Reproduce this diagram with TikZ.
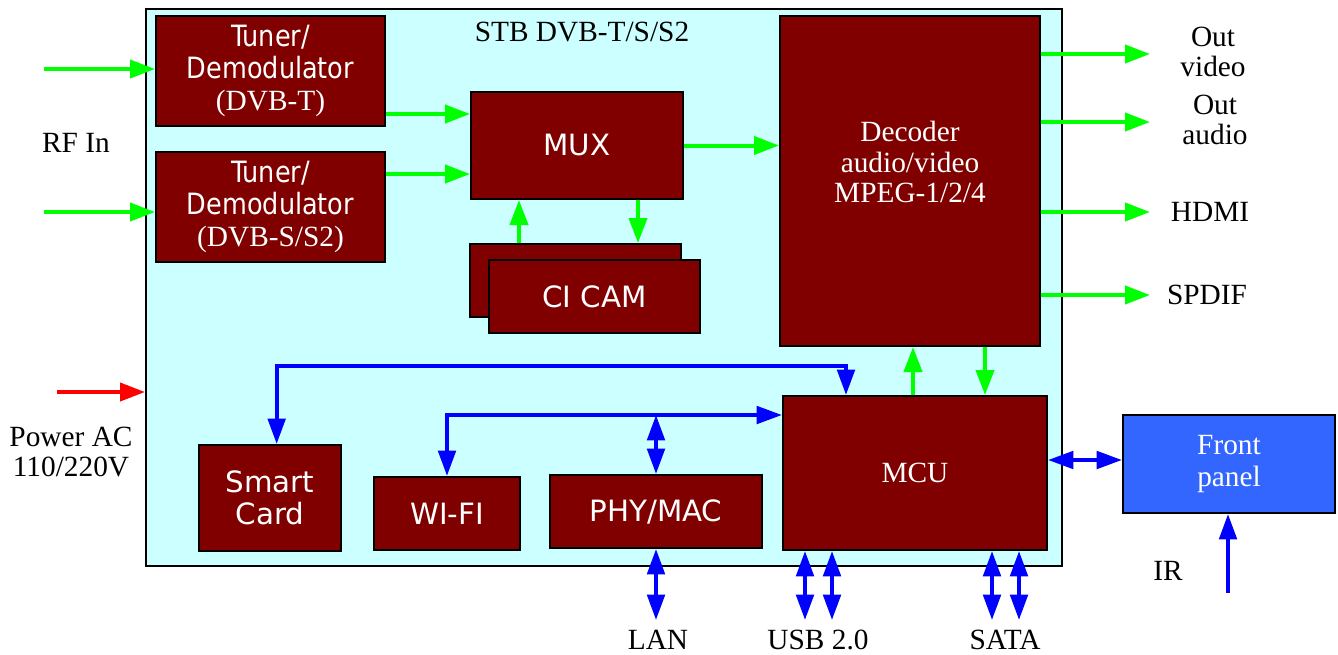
\documentclass[tikz,border=0pt]{standalone}
\usepackage{fontspec}
\setmainfont{Liberation Serif}
\newfontfamily\blockfont{DejaVu Sans}
\newfontfamily\tunerfont{DejaVu Sans}[FakeStretch=0.87]
\usetikzlibrary{arrows.meta}

\definecolor{stbCyan}{RGB}{204,255,255}
\definecolor{blockRed}{RGB}{128,0,0}
\definecolor{sigGreen}{RGB}{0,255,0}
\definecolor{busBlue}{RGB}{0,0,255}
\definecolor{panelBlue}{RGB}{51,102,255}

\tikzset{
  block/.style={draw=black, line width=1.5pt, fill=blockRed, text=white, inner sep=0pt, align=center, font=\blockfont\fontsize{22}{24}\selectfont},
  lbl/.style={inner sep=0pt, align=center, font=\fontsize{22}{23}\selectfont},
  sig/.style={draw=sigGreen, line width=3pt, -{Triangle[length=18.75pt,width=13.5pt]}},
  bus/.style={draw=busBlue, line width=3pt, {Triangle[length=19pt,width=13pt]}-{Triangle[length=19pt,width=13pt]}},
  busOne/.style={draw=busBlue, line width=3pt, -{Triangle[length=19pt,width=13pt]}},
  pwrIn/.style={draw=red, line width=3pt, -{Triangle[length=18.75pt,width=13.5pt]}}
}

\begin{document}
\begin{tikzpicture}[x=0.75pt,y=0.75pt,yscale=-1,xscale=1]
\useasboundingbox (0,0) rectangle (1338,654);

%Shape: Rectangle [STB housing]
\node (stb) [draw=black, line width=1.5pt, fill=stbCyan, minimum width=687pt, minimum height=417.75pt, inner sep=0pt] at (604,287.5) {};
% Text Node
\node (title) [lbl] at (582,32) {STB DVB-T/S/S2};

%Shape: Rectangle [tuners]
\node (tunerT) [block, font=\tunerfont\fontsize{22}{24}\selectfont, minimum width=171.75pt, minimum height=82.5pt] at (270.5,71) {Tuner/\\Demodulator\\{\rmfamily (DVB-T)}};
\node (tunerS) [block, font=\tunerfont\fontsize{22}{24}\selectfont, minimum width=171.75pt, minimum height=82.5pt] at (270.5,207) {Tuner/\\Demodulator\\{\rmfamily (DVB-S/S2)}};
%Shape: Rectangle [mux]
\node (mux) [block, minimum width=159pt, minimum height=80.25pt] at (577,145.5) {MUX};
%Shape: Rectangle [ci cam, two cards]
\node (cicamB) [block, minimum width=158.25pt, minimum height=54.75pt] at (575.5,280.5) {};
\node (cicam) [block, minimum width=158.25pt, minimum height=54.75pt] at (594.5,296.5) {CI CAM};
%Shape: Rectangle [decoder]
\node (decoder) [block, minimum width=195pt, minimum height=247.5pt] at (910,181) {};
% Text Node
\node (decText) [lbl, text=white] at (910,162) {Decoder\\audio/video\\MPEG-1/2/4};
%Shape: Rectangle [bottom row]
\node (sc) [block, minimum width=106.5pt, minimum height=79.5pt] at (270,498) {Smart\\Card};
\node (wifi) [block, minimum width=109.5pt, minimum height=54.75pt] at (447,513.5) {WI-FI};
\node (phy) [block, minimum width=159pt, minimum height=54.75pt] at (656,511.5) {PHY/MAC};
\node (mcu) [block, font=\fontsize{22}{24}\selectfont, minimum width=198pt, minimum height=115.5pt] at (915,473) {MCU};
\node (front) [block, fill=panelBlue, font=\fontsize{22}{24}\selectfont, minimum width=159pt, minimum height=73.5pt] at (1229,464) {Front\\panel};

% Text Node
\node (rfIn) [lbl] at (76,143) {RF In};
\node (power) [lbl] at (71,452) {Power AC\\110/220V};
\node (outV) [lbl] at (1213,52) {Out\\video};
\node (outA) [lbl] at (1215,120) {Out\\audio};
\node (hdmi) [lbl] at (1210,212) {HDMI};
\node (spdif) [lbl] at (1207,295) {SPDIF};
\node (ir) [lbl] at (1168,571) {IR};
\node (lan) [lbl] at (658,640) {LAN};
\node (usb) [lbl] at (818,640) {USB 2.0};
\node (sata) [lbl] at (1005,640) {SATA};

% free ends
\coordinate (rfA) at (44,69);
\coordinate (rfB) at (44,212);
\coordinate (pwrA) at (57,392);
\coordinate (oV) at (1150,54);
\coordinate (oA) at (1150,122);
\coordinate (oH) at (1150,212);
\coordinate (oS) at (1150,295);
\coordinate (irA) at (1228,593);
\coordinate (lanA) at (658,620);
\coordinate (usbA) at (805,620);
\coordinate (usbB) at (832,620);
\coordinate (sataA) at (992,620);
\coordinate (sataB) at (1019,620);
\coordinate (busA) at (846,366);
\coordinate (busB) at (0,415);

%Straight Lines [green signal path]
\draw [sig] (rfA) -- (rfA -| tunerT.west);
\draw [sig] (rfB) -- (rfB -| tunerS.west);
\draw [sig] ([yshift=32.25pt]tunerT.east) -- ([yshift=32.25pt]tunerT.east -| mux.west);
\draw [sig] ([yshift=-24.75pt]tunerS.east) -- ([yshift=-24.75pt]tunerS.east -| mux.west);
\draw [sig] (mux.east) -- (mux.east -| decoder.west);
\draw [sig] ([xshift=-43.5pt]mux.south |- cicamB.north) -- ([xshift=-43.5pt]mux.south);
\draw [sig] ([xshift=45.75pt]mux.south) -- ([xshift=45.75pt]mux.south |- cicamB.north);
\draw [sig] (oV -| decoder.east) -- (oV);
\draw [sig] (oA -| decoder.east) -- (oA);
\draw [sig] (oH -| decoder.east) -- (oH);
\draw [sig] (oS -| decoder.east) -- (oS);
\draw [sig] ([xshift=-1.5pt]mcu.north) -- ([xshift=-1.5pt]mcu.north |- decoder.south);
\draw [sig] ([xshift=56.25pt]decoder.south) -- ([xshift=56.25pt]decoder.south |- mcu.north);

%Straight Lines [power]
\draw [pwrIn] (pwrA) -- (pwrA -| stb.west);

%Straight Lines [blue control bus]
\draw [bus] ([xshift=5pt]sc.north) |- (busA) -- (busA |- mcu.north);
\draw [bus] (wifi.north) |- (busB -| mcu.west);
\draw [bus] (phy.north |- busB) -- (phy.north);
\draw [bus] (phy.south |- lanA) -- (phy.south);
\draw [bus] (usbA |- mcu.south) -- (usbA);
\draw [bus] (usbB |- mcu.south) -- (usbB);
\draw [bus] (sataA |- mcu.south) -- (sataA);
\draw [bus] (sataB |- mcu.south) -- (sataB);
\draw [bus] ([yshift=-3pt]mcu.east |- front.west) -- ([yshift=-3pt]front.west);
\draw [busOne] (irA) -- (irA |- front.south);

\end{tikzpicture}
\end{document}
